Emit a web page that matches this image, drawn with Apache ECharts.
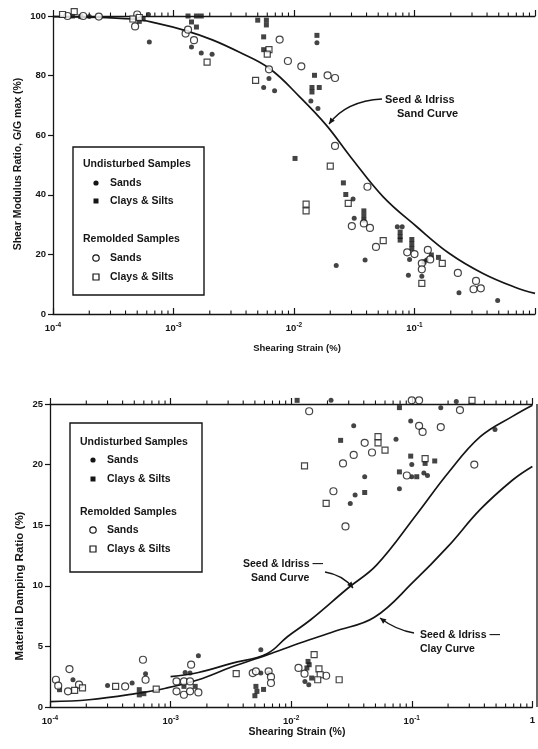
<!DOCTYPE html>
<html><head><meta charset="utf-8">
<script src="https://cdn.jsdelivr.net/npm/echarts@6/dist/echarts.min.js"></script>
<style>html,body{margin:0;padding:0;background:#fff}#c{width:538px;height:749px}</style>
</head><body><div id="c"></div>
<script>
// ---------- tick labels ----------
const xDecades = [1e-4, 1e-3, 1e-2, 1e-1, 1];
const modTicks = [0, 20, 40, 60, 80, 100];
const dampTicks = [0, 5, 10, 15, 20, 25];

// ---------- TOP: shear modulus ratio (%) ----------
const modSandCurve = [[1e-4,99.8],[4.6e-4,99.0],[7.2e-4,97.6],[1.26e-3,95.1],[2.1e-3,92.0],[3.5e-3,87.9],[6.3e-3,82.3],[1.12e-2,72.8],[1.86e-2,63.3],[2.95e-2,52.7],[5.5e-2,39.3],[1.05e-1,29.2],[1.95e-1,20.3],[3.7e-1,13.6],[6.9e-1,8.9],[1,6.9]];
const modUndSands = [[2.0e-4,99.8],[6.2e-4,100.5],[6.3e-4,91.3],[1.41e-3,89.6],[1.7e-3,87.6],[2.09e-3,87.2],[6.2e-3,79],[5.6e-3,76],[6.9e-3,74.9],[1.55e-2,91],[1.38e-2,71.5],[1.58e-2,69],[3.09e-2,38.6],[3.16e-2,32.1],[2.24e-2,16.3],[3.89e-2,18.1],[7.2e-2,29.3],[7.9e-2,29.3],[9.1e-2,18.3],[8.9e-2,13.0],[1.15e-1,12.7],[1.26e-1,18.1],[2.34e-1,7.1],[4.9e-1,4.5]];
const modUndClays = [[1.45e-4,100],[1.7e-4,99.8],[5.6e-4,99],[5.2e-4,98.2],[1.32e-3,100],[1.55e-3,100],[1.7e-3,100],[1.41e-3,98],[1.55e-3,96.3],[5.0e-3,98.6],[5.9e-3,98.6],[5.9e-3,97],[5.6e-3,93],[5.6e-3,88.7],[1.55e-2,93.5],[1.48e-2,80.1],[1.41e-2,76],[1.41e-2,74.5],[1.62e-2,76],[1.02e-2,52.2],[2.57e-2,44],[2.69e-2,40.1],[3.8e-2,34.6],[3.8e-2,33],[3.8e-2,31.5],[7.6e-2,27.5],[7.6e-2,26],[7.6e-2,24.8],[9.5e-2,25],[9.5e-2,23.5],[9.5e-2,22],[1.38e-1,19.8],[1.58e-1,19.0],[1.2e-1,17.5]];
const modRemSands = [[1.32e-4,100],[1.78e-4,100],[2.4e-4,99.8],[4.8e-4,96.5],[5.0e-4,100.5],[1.26e-3,94.1],[1.32e-3,95.4],[1.48e-3,91.9],[7.6e-3,92.1],[6.2e-3,82.1],[8.9e-3,84.9],[1.15e-2,83.1],[1.9e-2,80.1],[2.19e-2,79.2],[2.19e-2,56.4],[4.07e-2,42.7],[3.02e-2,29.5],[3.8e-2,30.4],[4.27e-2,28.9],[4.79e-2,22.5],[8.7e-2,20.7],[1.0e-1,20.1],[1.29e-1,21.5],[1.15e-1,17],[1.15e-1,15],[1.35e-1,18.3],[2.29e-1,13.8],[3.24e-1,11.1],[3.09e-1,8.3],[3.55e-1,8.6]];
const modRemClays = [[1.2e-4,100.5],[1.5e-4,101.5],[4.6e-4,99],[5.2e-4,99.5],[1.9e-3,84.5],[6.2e-3,88.7],[6.0e-3,87.2],[4.8e-3,78.4],[2.0e-2,49.6],[2.82e-2,37.1],[1.26e-2,36.9],[1.26e-2,34.6],[5.5e-2,24.6],[1.15e-1,10.3],[1.7e-1,17]];

// ---------- BOTTOM: material damping ratio (%) ----------
const dampSandCurve = [[1e-3,2.5],[1.7e-3,2.85],[3.2e-3,3.6],[6.3e-3,4.4],[9.3e-3,5.8],[1.45e-2,7.2],[2.95e-2,9.8],[5.1e-2,11.7],[1.1e-1,15.9],[2.0e-1,19.3],[3.7e-1,22.3],[6.9e-1,24.0],[1,24.9]];
const dampClayCurve = [[1e-4,0.45],[2.1e-4,0.6],[5.1e-4,1.1],[9.1e-4,1.55],[1.7e-3,2.25],[3.2e-3,3.3],[6.3e-3,4.3],[1.2e-2,5.3],[2.3e-2,6.25],[4.9e-2,7.4],[1.05e-1,10.4],[2.0e-1,13.25],[3.7e-1,16.3],[6.9e-1,18.75],[1,19.85]];
const dampUndSands = [[1.55e-4,2.25],[3.0e-4,1.78],[4.8e-4,1.98],[6.2e-4,2.75],[1.7e-3,4.23],[1.32e-3,2.85],[1.45e-3,2.8],[5.6e-3,4.73],[5.6e-3,2.8],[6.5e-3,2.8],[1.4e-2,1.84],[1.3e-2,2.11],[3.3e-2,23.2],[4.07e-2,19.0],[3.39e-2,17.5],[3.09e-2,16.8],[7.4e-2,22.1],[9.8e-2,23.6],[7.9e-2,18.0],[1.0e-1,20.0],[1.0e-1,19.0],[1.26e-1,19.3],[1.35e-1,19.1],[4.9e-1,22.9],[2.14e-2,25.3],[1.74e-1,24.7],[2.34e-1,25.2]];
const dampUndClays = [[1.2e-4,1.43],[5.5e-4,1.43],[5.5e-4,1.0],[6.0e-4,1.1],[1.29e-3,1.7],[1.6e-3,1.7],[5.1e-3,1.7],[5.2e-3,1.29],[5.0e-3,0.93],[5.9e-3,1.45],[1.38e-2,3.76],[1.41e-2,3.49],[1.35e-2,3.22],[1.48e-2,2.39],[1.12e-2,25.3],[2.57e-2,22.0],[4.07e-2,17.7],[7.9e-2,19.4],[9.8e-2,20.7],[1.55e-1,20.3],[1.29e-1,20.1],[1.1e-1,19.0],[7.9e-2,24.7]];
const dampRemSands = [[1.12e-4,2.25],[1.17e-4,1.76],[1.45e-4,3.13],[1.41e-4,1.29],[1.74e-4,1.84],[5.9e-4,3.9],[6.2e-4,2.25],[4.2e-4,1.7],[1.48e-3,3.49],[1.12e-3,2.11],[1.29e-3,2.11],[1.45e-3,2.11],[1.12e-3,1.29],[1.29e-3,1.01],[1.45e-3,1.29],[1.7e-3,1.2],[4.8e-3,2.8],[5.1e-3,2.94],[6.5e-3,2.94],[6.8e-3,2.48],[6.8e-3,1.98],[1.15e-2,3.22],[1.29e-2,2.75],[1.95e-2,2.58],[1.41e-2,24.4],[4.07e-2,21.8],[4.68e-2,21.0],[3.3e-2,20.8],[2.69e-2,20.1],[2.24e-2,17.8],[2.82e-2,14.9],[9.1e-2,19.1],[1.0e-1,25.3],[1.15e-1,25.3],[1.15e-1,23.2],[1.23e-1,22.7],[1.74e-1,23.1],[2.51e-1,24.5],[3.3e-1,20.0]];
const dampRemClays = [[1.6e-4,1.37],[1.86e-4,1.57],[3.5e-4,1.7],[7.6e-4,1.48],[3.5e-3,2.75],[1.55e-2,4.32],[1.7e-2,3.14],[1.74e-2,2.66],[1.66e-2,2.25],[2.5e-2,2.25],[1.29e-2,19.9],[1.95e-2,16.8],[5.25e-2,22.3],[5.25e-2,21.8],[6.0e-2,21.2],[1.29e-1,20.5],[3.16e-1,25.3]];

// ---------- rendering ----------
const INK = '#151515';
const FONT = '"Liberation Sans", Arial, sans-serif';
const minorTicks = [];
xDecades.slice(0, -1).forEach(d => { for (let k = 2; k <= 9; k++) minorTicks.push(+(d * k).toPrecision(3)); });

const chart = echarts.init(document.getElementById('c'), null, {renderer: 'canvas'});

function xLabel(showOne) {
  return v => {
    const e = Math.round(Math.log10(v));
    if (e === 0) return showOne ? '{b|1}' : '';
    return '{b|10}{s|' + e + '}';
  };
}
const richLab = {
  b: {fontSize: 9.5, fontFamily: FONT, fontWeight: 'bold', color: INK},
  s: {fontSize: 6.5, fontFamily: FONT, fontWeight: 'bold', color: INK, padding: [0, 0, 6, 0]}
};
function xAxes(gi, showOne) {
  return [
    {type: 'log', logBase: 10, gridIndex: gi, min: xDecades[0], max: xDecades[xDecades.length - 1], position: 'bottom',
     axisLine: {lineStyle: {color: INK, width: 1.3}}, axisTick: {inside: true, length: 6, lineStyle: {color: INK, width: 1.2}},
     axisLabel: {formatter: xLabel(showOne), rich: richLab, margin: 8, showMaxLabel: true}, splitLine: {show: false}, minorTick: {show: false}},
    {type: 'log', logBase: 10, gridIndex: gi, min: xDecades[0], max: xDecades[xDecades.length - 1], position: 'top',
     axisLine: {onZero: false, lineStyle: {color: INK, width: 1.3}}, axisTick: {inside: false, length: 6, lineStyle: {color: INK, width: 1.2}},
     axisLabel: {show: false}, splitLine: {show: false}}
  ];
}
function yAxis(gi, ticks) {
  return {type: 'value', gridIndex: gi, min: ticks[0], max: ticks[ticks.length - 1], interval: ticks[1] - ticks[0],
    axisLine: {show: true, lineStyle: {color: INK, width: 1.3}}, axisTick: {show: true, inside: false, length: 5, lineStyle: {color: INK, width: 1.2}},
    axisLabel: {color: INK, fontSize: 9.5, fontFamily: FONT, fontWeight: 'bold', margin: 7}, splitLine: {show: false}};
}
function minorSeries(xi, yi, ymin, ymax) {
  return {type: 'custom', xAxisIndex: xi, yAxisIndex: yi, clip: false, silent: true, z: 3,
    data: minorTicks.map(v => [v, ymin]),
    renderItem: (params, api) => {
      const b = api.coord([api.value(0), ymin]);
      const t = api.coord([api.value(0), ymax]);
      return {type: 'group', children: [
        {type: 'line', shape: {x1: b[0], y1: b[1], x2: b[0], y2: b[1] - 3.5}, style: {stroke: INK, lineWidth: 1.1}},
        {type: 'line', shape: {x1: t[0], y1: t[1], x2: t[0], y2: t[1] - 3.5}, style: {stroke: INK, lineWidth: 1.1}}
      ]};
    }};
}
function scat(data, xi, yi, kind) {
  const base = {type: 'scatter', data, xAxisIndex: xi, yAxisIndex: yi, clip: false, z: 4};
  if (kind === 'fc') return Object.assign(base, {symbol: 'circle', symbolSize: 5, itemStyle: {color: INK}});
  if (kind === 'fs') return Object.assign(base, {symbol: 'rect', symbolSize: 5, itemStyle: {color: INK}});
  if (kind === 'oc') return Object.assign(base, {symbol: 'circle', symbolSize: 7, itemStyle: {color: '#fff', borderColor: INK, borderWidth: 1.2}});
  return Object.assign(base, {symbol: 'rect', symbolSize: 6, itemStyle: {color: '#fff', borderColor: INK, borderWidth: 1.2}});
}
function curve(data, xi, yi) {
  return {type: 'line', data, xAxisIndex: xi, yAxisIndex: yi, smooth: 0.4, showSymbol: false, symbol: 'none',
    lineStyle: {color: INK, width: 1.7}, z: 3, clip: false};
}

// graphic helpers
function txt(x, y, s, o) {
  o = o || {};
  return {type: 'text', x, y, rotation: o.rot || 0, z: 10,
    style: {text: s, font: (o.w || 'bold') + ' ' + (o.size || 10) + 'px ' + FONT, fill: INK,
      textAlign: o.align || 'left', textVerticalAlign: 'middle', align: o.align || 'left', verticalAlign: 'middle'}};
}
function arrow(x1, y1, cx, cy, x2, y2) {
  const dx = x2 - cx, dy = y2 - cy, L = Math.hypot(dx, dy), ux = dx / L, uy = dy / L, px = -uy, py = ux;
  const bx = x2 - ux * 6, by = y2 - uy * 6;
  return [
    {type: 'bezierCurve', z: 10, shape: {x1, y1, x2, y2, cpx1: cx, cpy1: cy}, style: {stroke: INK, lineWidth: 1.3, fill: null}},
    {type: 'polygon', z: 10, shape: {points: [[x2, y2], [bx + px * 2.8, by + py * 2.8], [bx - px * 2.8, by - py * 2.8]]}, style: {fill: INK}}
  ];
}
function legend(x0, y0, w, h, rowYs, mx, tx) {
  const g = [{type: 'rect', z: 9, shape: {x: x0, y: y0, width: w, height: h}, style: {fill: '#fff', stroke: INK, lineWidth: 1.4}}];
  g.push(txt(x0 + 10, rowYs[0], 'Undisturbed Samples', {size: 10.5}));
  g.push({type: 'circle', z: 10, shape: {cx: mx, cy: rowYs[1], r: 2.6}, style: {fill: INK}});
  g.push(txt(tx, rowYs[1], 'Sands', {size: 10.5}));
  g.push({type: 'rect', z: 10, shape: {x: mx - 2.5, y: rowYs[2] - 2.5, width: 5, height: 5}, style: {fill: INK}});
  g.push(txt(tx, rowYs[2], 'Clays & Silts', {size: 10.5}));
  g.push(txt(x0 + 10, rowYs[3], 'Remolded Samples', {size: 10.5}));
  g.push({type: 'circle', z: 10, shape: {cx: mx, cy: rowYs[4], r: 3.2}, style: {fill: '#fff', stroke: INK, lineWidth: 1.2}});
  g.push(txt(tx, rowYs[4], 'Sands', {size: 10.5}));
  g.push({type: 'rect', z: 10, shape: {x: mx - 3, y: rowYs[5] - 3, width: 6, height: 6}, style: {fill: '#fff', stroke: INK, lineWidth: 1.2}});
  g.push(txt(tx, rowYs[5], 'Clays & Silts', {size: 10.5}));
  return g;
}

const graphic = [].concat(
  [txt(18, 164, 'Shear Modulus Ratio, G/G max (%)', {rot: Math.PI / 2, align: 'center', size: 10.5})],
  [txt(297, 348, 'Shearing Strain (%)', {align: 'center', size: 9.5})],
  [txt(20, 586, 'Material Damping Ratio (%)', {rot: Math.PI / 2, align: 'center', size: 11.5})],
  [txt(297, 732, 'Shearing Strain (%)', {align: 'center', size: 10.5})],
  [txt(385, 100, 'Seed & Idriss', {size: 11}), txt(397, 114, 'Sand Curve', {size: 11})],
  arrow(382, 99, 346, 101, 329, 124),
  [txt(243, 564, 'Seed & Idriss —', {size: 10.5}), txt(251, 578, 'Sand Curve', {size: 10.5})],
  arrow(325, 572, 343, 575, 353, 588),
  [txt(420, 635, 'Seed & Idriss —', {size: 10.5}), txt(420, 649, 'Clay Curve', {size: 10.5})],
  arrow(414, 633, 396, 630, 380, 618),
  legend(73, 147, 131, 148, [164, 183, 201, 239, 258, 277], 96, 110),
  legend(70, 423, 132, 149, [442, 460, 479, 512, 530, 549], 93, 107),
  [{type: 'line', z: 2, shape: {x1: 537, y1: 404, x2: 537, y2: 707}, style: {stroke: INK, lineWidth: 1.3}}]
);

chart.setOption({
  animation: false,
  backgroundColor: '#fff',
  grid: [
    {left: 53, right: 1, top: 16, height: 298},
    {left: 50, right: 1, top: 404, height: 303}
  ],
  xAxis: [].concat(xAxes(0, false), xAxes(1, true)),
  yAxis: [yAxis(0, modTicks), yAxis(1, dampTicks)],
  graphic: graphic,
  series: [
    minorSeries(0, 0, modTicks[0], modTicks[modTicks.length - 1]),
    minorSeries(2, 1, dampTicks[0], dampTicks[dampTicks.length - 1]),
    curve(modSandCurve, 0, 0),
    scat(modUndSands, 0, 0, 'fc'), scat(modUndClays, 0, 0, 'fs'), scat(modRemSands, 0, 0, 'oc'), scat(modRemClays, 0, 0, 'os'),
    curve(dampSandCurve, 2, 1), curve(dampClayCurve, 2, 1),
    scat(dampUndSands, 2, 1, 'fc'), scat(dampUndClays, 2, 1, 'fs'), scat(dampRemSands, 2, 1, 'oc'), scat(dampRemClays, 2, 1, 'os')
  ]
});
</script>
</body></html>
